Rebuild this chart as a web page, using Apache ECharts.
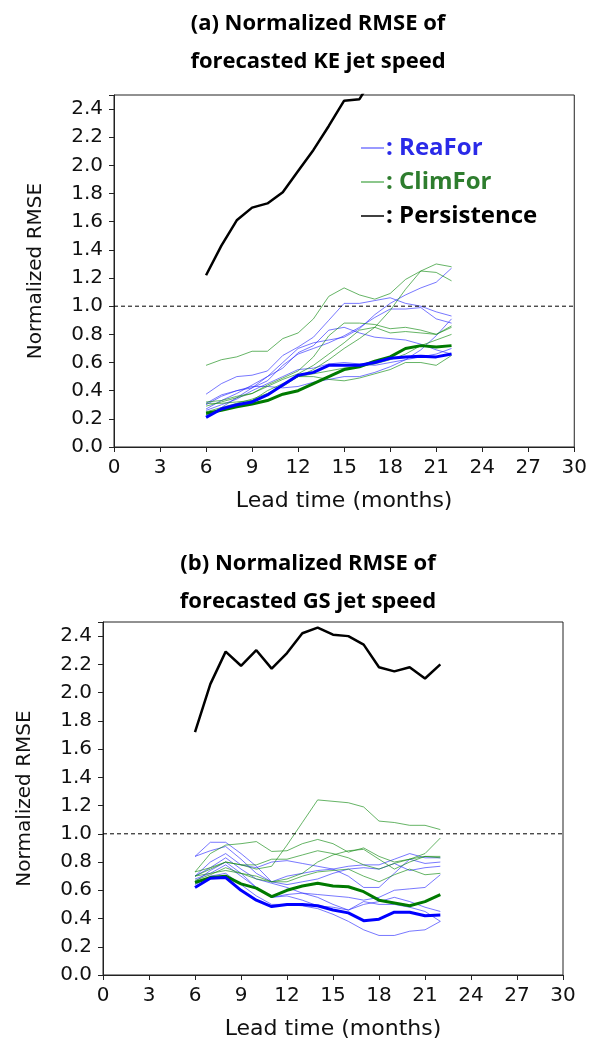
<!DOCTYPE html>
<html>
<head>
<meta charset="utf-8">
<script src="https://cdn.jsdelivr.net/npm/echarts@6/dist/echarts.min.js"></script>
<style>
  html, body { margin: 0; padding: 0; background: #fff; }
  #chart { width: 590px; height: 1043px; }
</style>
</head>
<body>
<div id="chart"></div>
<script>
// lead times (months)
var months = [6, 7, 8, 9, 10, 11, 12, 13, 14, 15, 16, 17, 18, 19, 20, 21, 22];
var refLine = [[0, 1], [30, 1]];

// (a) KE jet speed
var keReaForMean = [0.21, 0.27, 0.30, 0.32, 0.37, 0.44, 0.51, 0.53, 0.58, 0.58, 0.58, 0.60, 0.63, 0.64, 0.645, 0.64, 0.66];
var keClimForMean = [0.24, 0.26, 0.285, 0.305, 0.33, 0.375, 0.40, 0.45, 0.50, 0.55, 0.57, 0.61, 0.64, 0.70, 0.72, 0.71, 0.72];
var kePersistence = [1.22, 1.43, 1.61, 1.70, 1.73, 1.81, 1.96, 2.11, 2.28, 2.46, 2.47, 2.65];
var keReaFor = [
  [0.375, 0.45, 0.50, 0.51, 0.54, 0.65, 0.71, 0.78, 0.90, 1.02, 1.02, 1.04, 1.06, 1.02, 1.00, 0.96, 0.93],
  [0.31, 0.37, 0.40, 0.43, 0.43, 0.42, 0.43, 0.46, 0.48, 0.50, 0.50, 0.53, 0.57, 0.62, 0.69, 0.79, 0.91],
  [0.27, 0.33, 0.38, 0.44, 0.50, 0.56, 0.67, 0.72, 0.83, 0.85, 0.81, 0.78, 0.77, 0.76, 0.73, 0.69, 0.66],
  [0.22, 0.28, 0.35, 0.42, 0.50, 0.60, 0.70, 0.74, 0.76, 0.78, 0.84, 0.94, 1.02, 1.08, 1.13, 1.17, 1.27],
  [0.30, 0.36, 0.40, 0.42, 0.47, 0.58, 0.66, 0.70, 0.74, 0.79, 0.85, 0.92, 0.98, 0.98, 0.99, 0.91, 0.88],
  [0.26, 0.30, 0.34, 0.40, 0.45, 0.50, 0.55, 0.56, 0.59, 0.60, 0.59, 0.58, 0.60, 0.62, 0.64, 0.66, 0.70]
];
var keClimFor = [
  [0.58, 0.62, 0.64, 0.68, 0.68, 0.77, 0.81, 0.91, 1.07, 1.13, 1.08, 1.05, 1.09, 1.19, 1.25, 1.30, 1.28],
  [0.32, 0.33, 0.36, 0.38, 0.44, 0.49, 0.54, 0.64, 0.79, 0.88, 0.88, 0.87, 0.84, 0.85, 0.83, 0.80, 0.86],
  [0.31, 0.31, 0.32, 0.33, 0.40, 0.45, 0.50, 0.55, 0.62, 0.70, 0.77, 0.85, 0.97, 1.12, 1.25, 1.24, 1.18],
  [0.29, 0.32, 0.35, 0.38, 0.43, 0.48, 0.52, 0.58, 0.66, 0.74, 0.83, 0.85, 0.81, 0.82, 0.81, 0.80, 0.85],
  [0.25, 0.28, 0.31, 0.34, 0.38, 0.43, 0.50, 0.50, 0.48, 0.47, 0.49, 0.52, 0.55, 0.60, 0.60, 0.58, 0.65],
  [0.23, 0.27, 0.30, 0.33, 0.37, 0.44, 0.50, 0.52, 0.54, 0.56, 0.57, 0.59, 0.62, 0.66, 0.72, 0.76, 0.80]
];

// (b) GS jet speed
var gsReaForMean = [0.62, 0.685, 0.69, 0.60, 0.53, 0.485, 0.50, 0.50, 0.49, 0.46, 0.44, 0.385, 0.395, 0.445, 0.445, 0.42, 0.425];
var gsClimForMean = [0.655, 0.69, 0.70, 0.645, 0.615, 0.555, 0.60, 0.63, 0.65, 0.63, 0.625, 0.59, 0.53, 0.51, 0.49, 0.52, 0.57];
var gsPersistence = [1.72, 2.06, 2.29, 2.19, 2.30, 2.17, 2.28, 2.42, 2.46, 2.41, 2.40, 2.34, 2.18, 2.15, 2.18, 2.10, 2.20];
var gsReaFor = [
  [0.84, 0.94, 0.94, 0.86, 0.77, 0.66, 0.70, 0.72, 0.74, 0.75, 0.77, 0.78, 0.78, 0.82, 0.86, 0.83, 0.83],
  [0.84, 0.88, 0.91, 0.82, 0.72, 0.66, 0.64, 0.66, 0.68, 0.72, 0.75, 0.76, 0.75, 0.79, 0.74, 0.76, 0.77],
  [0.70, 0.80, 0.86, 0.78, 0.76, 0.80, 0.81, 0.79, 0.77, 0.75, 0.70, 0.62, 0.62, 0.72, 0.82, 0.79, 0.80],
  [0.70, 0.76, 0.83, 0.75, 0.68, 0.65, 0.62, 0.58, 0.57, 0.56, 0.55, 0.53, 0.55, 0.60, 0.61, 0.62, 0.71],
  [0.66, 0.74, 0.80, 0.72, 0.62, 0.55, 0.56, 0.53, 0.49, 0.48, 0.46, 0.52, 0.50, 0.50, 0.48, 0.45, 0.38],
  [0.64, 0.70, 0.72, 0.64, 0.56, 0.50, 0.50, 0.49, 0.47, 0.43, 0.38, 0.32, 0.28, 0.28, 0.31, 0.32, 0.38],
  [0.68, 0.72, 0.78, 0.70, 0.62, 0.55, 0.57, 0.58, 0.55, 0.50, 0.46, 0.50, 0.52, 0.55, 0.52, 0.48, 0.45]
];
var gsClimFor = [
  [0.73, 0.76, 0.80, 0.78, 0.75, 0.77, 0.92, 1.08, 1.24, 1.23, 1.22, 1.19, 1.09, 1.08, 1.06, 1.06, 1.03],
  [0.73, 0.86, 0.92, 0.93, 0.945, 0.875, 0.88, 0.93, 0.96, 0.93, 0.87, 0.90, 0.84, 0.80, 0.82, 0.86, 0.97],
  [0.70, 0.75, 0.80, 0.78, 0.78, 0.82, 0.82, 0.85, 0.88, 0.86, 0.83, 0.78, 0.75, 0.79, 0.82, 0.84, 0.83],
  [0.67, 0.71, 0.76, 0.72, 0.68, 0.66, 0.68, 0.72, 0.80, 0.85, 0.88, 0.89, 0.82, 0.75, 0.80, 0.84, 0.84],
  [0.70, 0.72, 0.74, 0.72, 0.70, 0.66, 0.66, 0.70, 0.73, 0.74, 0.75, 0.70, 0.66, 0.71, 0.75, 0.71, 0.72]
];

var blueThin = 'rgba(30,30,255,0.6)';
var greenThin = 'rgba(20,140,20,0.65)';

function pairs(vals) {
  return vals.map(function (v, i) { return [months[i], v]; });
}

function line(name, vals, idx, color, width) {
  return {
    name: name, type: 'line', xAxisIndex: idx, yAxisIndex: idx,
    data: pairs(vals), symbol: 'none', silent: true,
    lineStyle: { color: color, width: width }, itemStyle: { color: color }
  };
}

var chart = echarts.init(document.getElementById('chart'));
var series = [];
[0, 1].forEach(function (idx) {
  var rea = idx === 0 ? keReaFor : gsReaFor;
  var clim = idx === 0 ? keClimFor : gsClimFor;
  rea.forEach(function (v) { series.push(line('ReaFor', v, idx, blueThin, 1)); });
  clim.forEach(function (v) { series.push(line('ClimFor', v, idx, greenThin, 1)); });
  series.push(line('ClimFor', idx === 0 ? keClimForMean : gsClimForMean, idx, '#007a00', 3));
  series.push(line('ReaFor', idx === 0 ? keReaForMean : gsReaForMean, idx, '#0000ff', 3));
  series.push(line('Persistence', idx === 0 ? kePersistence : gsPersistence, idx, '#000', 2.5));
  series.push({
    type: 'line', xAxisIndex: idx, yAxisIndex: idx, data: refLine, symbol: 'none', silent: true,
    lineStyle: { color: '#000', width: 1, type: [4, 3] }
  });
});

var tickFont = 'DejaVu Sans';
var boldFont = 'Open Sans';

function xAx(idx) {
  return {
    type: 'value', gridIndex: idx, min: 0, max: 30, interval: 3,
    name: 'Lead time (months)', nameLocation: 'middle', nameGap: 43,
    nameTextStyle: { fontFamily: tickFont, fontSize: 22, color: '#111' },
    axisLine: { show: true, lineStyle: { color: '#222', width: 1 } },
    axisTick: { show: true, inside: false, length: 5, lineStyle: { color: '#222' } },
    axisLabel: { fontFamily: tickFont, fontSize: 20, color: '#111', margin: 11 },
    splitLine: { show: false }
  };
}
function yAx(idx) {
  return {
    type: 'value', gridIndex: idx, min: 0, max: 2.5, interval: 0.2,
    name: 'Normalized RMSE', nameLocation: 'middle', nameGap: 68, nameRotate: 90,
    nameTextStyle: { fontFamily: tickFont, fontSize: 20, color: '#111' },
    axisLine: { show: true, lineStyle: { color: '#222', width: 1 } },
    axisTick: { show: true, inside: false, length: 5, lineStyle: { color: '#222' } },
    axisLabel: {
      fontFamily: tickFont, fontSize: 20, color: '#111', margin: 11,
      formatter: function (v) { return v > 2.45 ? '' : v.toFixed(1); }
    },
    splitLine: { show: false }
  };
}

chart.setOption({
  backgroundColor: '#fff',
  animation: false,
  title: [
    {
      text: '(a) Normalized RMSE of\nforecasted KE jet speed', left: 313, top: 0, textAlign: 'center',
      textStyle: { fontFamily: boldFont, fontWeight: 'bold', fontSize: 22, lineHeight: 38, color: '#000' }
    },
    {
      text: '(b) Normalized RMSE of\nforecasted GS jet speed', left: 303, top: 540, textAlign: 'center',
      textStyle: { fontFamily: boldFont, fontWeight: 'bold', fontSize: 22, lineHeight: 38, color: '#000' }
    }
  ],
  legend: {
    orient: 'vertical', left: 356, top: 131, itemGap: 10,
    icon: 'rect', itemWidth: 23, itemHeight: 1.5, itemStyle: { borderWidth: 0 },
    formatter: ': {name}',
    textStyle: { fontFamily: boldFont, fontWeight: 'bold', fontSize: 24, padding: [0, 0, 0, -3] },
    data: [
      { name: 'ReaFor', textStyle: { color: '#2a2ae8' } },
      { name: 'ClimFor', textStyle: { color: '#2e7d2e' } },
      { name: 'Persistence', textStyle: { color: '#000' } }
    ],
    selectedMode: false
  },
  grid: [
    { left: 114, top: 95, right: 15, bottom: 596, show: true, borderColor: '#222', borderWidth: 1 },
    { left: 103, top: 622, right: 27, bottom: 68, show: true, borderColor: '#222', borderWidth: 1 }
  ],
  xAxis: [xAx(0), xAx(1)],
  yAxis: [yAx(0), yAx(1)],
  series: series
});
</script>
</body>
</html>
